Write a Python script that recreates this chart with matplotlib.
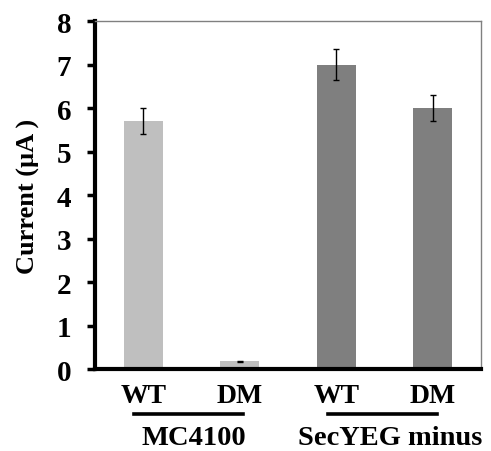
import matplotlib
matplotlib.use("Agg")
import matplotlib.pyplot as plt
import matplotlib.transforms as mtransforms

# bar data
labels = ["WT", "DM", "WT", "DM"]
values = [5.70, 0.18, 7.00, 6.00]
errors = [0.29, 0.01, 0.35, 0.30]
colors = ["#BFBFBF", "#BFBFBF", "#7F7F7F", "#7F7F7F"]
groups = ["MC4100", "SecYEG minus"]
group_spans = [(-0.1, 1.03), (1.92, 3.04)]
group_centers = [0.52, 2.56]

plt.rcParams['font.family'] = ['Liberation Serif', 'DejaVu Serif']
plt.rcParams['font.weight'] = 'bold'

fig = plt.figure(figsize=(4.91, 4.52), dpi=100)
ax = fig.add_axes([0.1935, 0.1814, 0.786, 0.7699])

x = list(range(len(values)))
ax.bar(x, values, width=0.4, color=colors, zorder=2)
ax.errorbar(x, values, yerr=errors, fmt='none', ecolor='black',
            elinewidth=1, capsize=2.2, capthick=1, zorder=3)

ax.set_xlim(-0.5, 3.5)
ax.set_ylim(0, 8)
ax.set_yticks(range(0, 9))
ax.set_xticks(x)
ax.set_xticklabels(labels)

ax.tick_params(axis='y', direction='out', length=6, width=2.5,
               labelsize=21, pad=11)
ax.tick_params(axis='x', length=0, labelsize=20, pad=10)
for lab in ax.get_xticklabels() + ax.get_yticklabels():
    lab.set_fontweight('bold')

for side in ['left', 'bottom']:
    ax.spines[side].set_linewidth(3)
    ax.spines[side].set_color('black')
for side in ['top', 'right']:
    ax.spines[side].set_linewidth(1)
    ax.spines[side].set_color('#808080')

# group underlines and names below the tick labels
trans = mtransforms.blended_transform_factory(ax.transData, ax.transAxes)
for name, span, cx in zip(groups, group_spans, group_centers):
    ax.plot(span, [-0.129, -0.129], color='black', lw=2.6,
            transform=trans, clip_on=False)
    ax.text(cx, -0.197, name, transform=trans, ha='center', va='center',
            fontsize=20.5, fontweight='bold')

fig.text(28 / 491, 0.566, "Current (\u00b5A )", rotation=90,
         ha='center', va='center', fontsize=19, fontweight='bold')

fig.savefig("out.png", dpi=100)
